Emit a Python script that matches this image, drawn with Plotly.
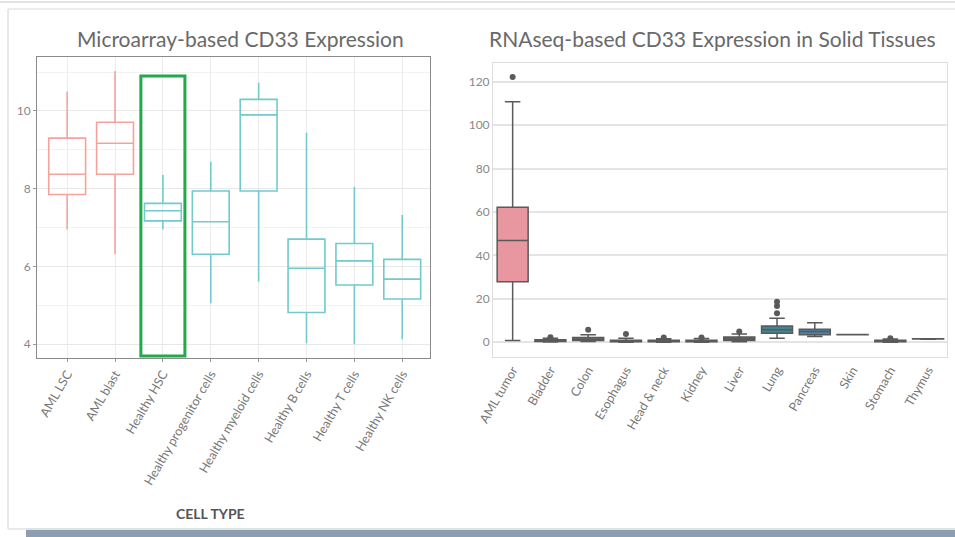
import plotly.graph_objects as go
from plotly.subplots import make_subplots

# Microarray data (left)
cell_types = ['AML LSC', 'AML blast', 'Healthy HSC', 'Healthy progenitor cells',
              'Healthy myeloid cells', 'Healthy B cells', 'Healthy T cells', 'Healthy NK cells']
ma_low = [6.95, 6.31, 6.95, 5.05, 5.61, 4.02, 4.00, 4.12]
ma_q1 = [7.85, 8.37, 7.17, 6.31, 7.94, 4.81, 5.52, 5.16]
ma_med = [8.37, 9.17, 7.43, 7.15, 9.90, 5.95, 6.14, 5.67]
ma_q3 = [9.30, 9.71, 7.62, 7.94, 10.30, 6.70, 6.59, 6.18]
ma_high = [10.50, 11.03, 8.35, 8.69, 10.73, 9.44, 8.05, 7.32]

# RNAseq data (right)
tissues = ['AML tumor', 'Bladder', 'Colon', 'Esophagus', 'Head & neck', 'Kidney',
           'Liver', 'Lung', 'Pancreas', 'Skin', 'Stomach', 'Thymus']
rs_low = [0.8, 0.1, 0.3, 0.0, 0.0, 0.0, 0.2, 1.8, 2.6, 3.4, 0.0, 1.4]
rs_q1 = [27.9, 0.3, 0.8, 0.2, 0.2, 0.2, 0.8, 4.1, 3.4, 3.4, 0.2, 1.5]
rs_med = [46.8, 0.6, 1.3, 0.4, 0.5, 0.5, 1.5, 5.7, 4.9, 3.5, 0.5, 1.5]
rs_q3 = [62.2, 1.1, 2.2, 0.9, 0.9, 0.9, 2.4, 7.5, 6.0, 3.6, 0.9, 1.6]
rs_high = [110.8, 1.8, 3.5, 1.8, 1.6, 1.7, 3.8, 11.0, 9.0, 3.6, 1.5, 1.6]
rs_outliers = {
    'AML tumor': [122.1],
    'Bladder': [2.3],
    'Colon': [5.8],
    'Esophagus': [3.8],
    'Head & neck': [2.2],
    'Kidney': [2.2],
    'Liver': [4.9],
    'Lung': [13.4, 16.7, 18.7],
    'Stomach': [1.8],
}

W, H = 955, 537
FONT = 'Lato'


def px_x(v):
    return v / W


def px_y(v):
    return 1 - v / H


fig = make_subplots(rows=1, cols=2)

# left boxes
for i, c in enumerate(cell_types):
    col = '#f4a39c' if c.startswith('AML') else '#72cacc'
    fig.add_trace(go.Box(
        x=[c], q1=[ma_q1[i]], median=[ma_med[i]], q3=[ma_q3[i]],
        lowerfence=[ma_low[i]], upperfence=[ma_high[i]],
        fillcolor='rgba(255,255,255,0)', line=dict(color=col, width=1.6),
        whiskerwidth=0, width=0.77, boxpoints=False, showlegend=False
    ), row=1, col=1)

# right boxes
fills = {'AML tumor': '#e8969f', 'Lung': '#3f8597', 'Pancreas': '#4f80a6'}
for i, t in enumerate(tissues):
    fig.add_trace(go.Box(
        x=[t], q1=[rs_q1[i]], median=[rs_med[i]], q3=[rs_q3[i]],
        lowerfence=[rs_low[i]], upperfence=[rs_high[i]],
        fillcolor=fills.get(t, '#6a6a6a'), line=dict(color='#5a5a5a', width=1.5),
        whiskerwidth=0.5, width=0.82, boxpoints=False, showlegend=False
    ), row=1, col=2)

out_x, out_y = [], []
for t, vals in rs_outliers.items():
    for v in vals:
        out_x.append(t)
        out_y.append(v)
fig.add_trace(go.Scatter(
    x=out_x, y=out_y, mode='markers',
    marker=dict(color='#5a5a5a', size=6), showlegend=False
), row=1, col=2)

fig.update_layout(
    width=W, height=H,
    margin=dict(l=0, r=0, t=0, b=0, pad=0),
    plot_bgcolor='white', paper_bgcolor='white',
    font=dict(family=FONT, size=12, color='#777'),
    boxmode='overlay',
    xaxis=dict(domain=[px_x(37), px_x(430)], range=[-0.63, 7.58], automargin=False,
               tickangle=-60, showgrid=True, gridcolor='#ececec',
               showline=True, linecolor='#8a8a8a', mirror=True,
               ticks='outside', ticklen=3, tickcolor='#999',
               tickfont=dict(size=12.5, color='#777')),
    yaxis=dict(domain=[px_y(358), px_y(57)], range=[3.64, 11.39], automargin=False,
               dtick=2, showgrid=True, gridcolor='#e8e8e8', zeroline=False,
               minor=dict(dtick=1, showgrid=True, gridcolor='#f2f2f2'),
               showline=True, linecolor='#8a8a8a', mirror=True,
               ticks='outside', ticklen=3, tickcolor='#999',
               tickfont=dict(size=12, color='#888')),
    xaxis2=dict(domain=[px_x(493), px_x(947)], range=[-0.52, 11.5], automargin=False,
                tickangle=-60, showgrid=False,
                showline=True, linecolor='#dedede', mirror=True,
                tickfont=dict(size=12.5, color='#777')),
    yaxis2=dict(domain=[px_y(357), px_y(63)], range=[-6.8, 128.6], automargin=False,
                dtick=20, showgrid=True, gridcolor='#e4e4e4', gridwidth=1.5,
                zeroline=False, showline=True, linecolor='#dedede', mirror=True,
                tickfont=dict(size=12, color='#888')),
)

# titles
title_kw = dict(xref='paper', yref='paper', showarrow=False, xanchor='center', yanchor='middle')
fig.add_annotation(text='Microarray-based CD33 Expression', x=px_x(240), y=px_y(38),
                   font=dict(size=21, color='#696969', family=FONT), **title_kw)
fig.add_annotation(text='RNAseq-based CD33 Expression in Solid Tissues', x=px_x(712), y=px_y(38),
                   font=dict(size=21, color='#696969', family=FONT), **title_kw)
fig.add_annotation(text='<b>CELL TYPE</b>', x=px_x(210), y=px_y(513),
                   font=dict(size=14, color='#555', family=FONT), **title_kw)

# green highlight around Healthy HSC
fig.add_shape(type='rect', xref='x', yref='y', x0=1.54, x1=2.46, y0=3.69, y1=10.9,
              line=dict(color='#24a84c', width=3), fillcolor='rgba(0,0,0,0)')

# slide frame decoration
fig.add_shape(type='line', xref='paper', yref='paper', x0=0, x1=1, y0=px_y(2), y1=px_y(2),
              line=dict(color='#e2e2e2', width=2))
fig.add_shape(type='line', xref='paper', yref='paper', x0=px_x(8), x1=1, y0=px_y(9), y1=px_y(9),
              line=dict(color='#e6e6e6', width=1.5))
fig.add_shape(type='line', xref='paper', yref='paper', x0=px_x(8), x1=px_x(8), y0=px_y(9), y1=px_y(529),
              line=dict(color='#e2e2e2', width=1.5))
fig.add_shape(type='line', xref='paper', yref='paper', x0=px_x(8), x1=px_x(26), y0=px_y(529), y1=px_y(529),
              line=dict(color='#e2e2e2', width=1.5))
fig.add_shape(type='line', xref='paper', yref='paper', x0=px_x(26), x1=1, y0=px_y(529), y1=px_y(529),
              line=dict(color='#d5dbe0', width=1.5))
fig.add_shape(type='rect', xref='paper', yref='paper', x0=px_x(26), x1=1, y0=0, y1=px_y(530),
              line=dict(width=0), fillcolor='#8c9fb0')

# page body has a default margin; drop it so the figure sits at the window's corner
fig.write_html("out.html", config={'displayModeBar': False},
               post_script="document.body.style.margin='0';document.body.style.overflow='hidden';")
